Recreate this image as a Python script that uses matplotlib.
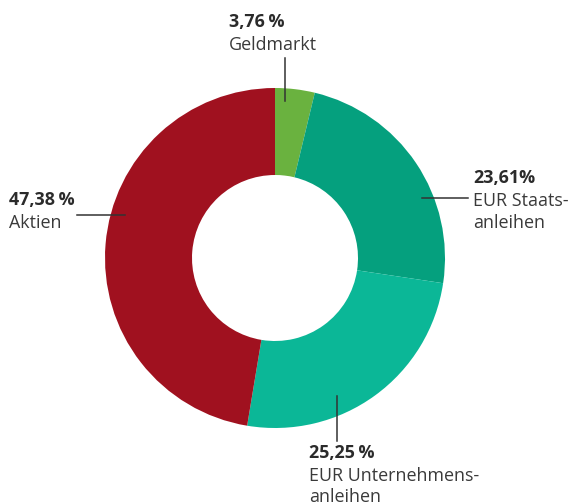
import matplotlib
matplotlib.use("Agg")
import matplotlib.pyplot as plt

categories = ["Geldmarkt", "EUR Staats-\nanleihen", "EUR Unternehmens-\nanleihen", "Aktien"]
values = [3.76, 23.61, 25.25, 47.38]
colors = ["#6ab23f", "#05a07e", "#0bb797", "#a0111f"]
pct_labels = ["3,76\u2009%", "23,61%", "25,25\u2009%", "47,38\u2009%"]

W, H = 571, 504
fig = plt.figure(figsize=(W / 100, H / 100), dpi=100)
ax = fig.add_axes([0, 0, 1, 1])
ax.set_xlim(0, W)
ax.set_ylim(0, H)
ax.axis("off")

def Y(y):
    return H - y

cx, cy, R, r_in = 275, 258, 170, 83
ax.pie(values, colors=colors, startangle=90, counterclock=False,
       center=(cx, Y(cy)), radius=R, frame=True,
       wedgeprops=dict(width=R - r_in, linewidth=0))
ax.set_xlim(0, W)
ax.set_ylim(0, H)
ax.set_aspect("equal")
ax.axis("off")

lc = "#333333"
# leader lines
ax.plot([285, 285], [Y(58), Y(101)], color=lc, lw=1.1)
ax.plot([422, 468], [Y(198), Y(198)], color=lc, lw=1.1)
ax.plot([337, 337], [Y(396), Y(441)], color=lc, lw=1.1)
ax.plot([77, 125], [Y(215), Y(215)], color=lc, lw=1.1)

fam = ["Open Sans", "DejaVu Sans"]
fs = 12.9
tc = "#3a3a3a"
label_pos = [(229, 22), (473, 178), (309, 453), (9, 200)]
for (x, y), pct, cat in zip(label_pos, pct_labels, categories):
    ax.text(x, Y(y), pct, fontsize=fs, fontweight="bold", color="#2b2b2b",
            family=fam, va="center", ha="left")
    for i, line in enumerate(cat.split("\n")):
        ax.text(x, Y(y + 23 + 21.5 * i), line, fontsize=fs, color=tc,
                family=fam, va="center", ha="left")

fig.savefig("out.png", dpi=100)
